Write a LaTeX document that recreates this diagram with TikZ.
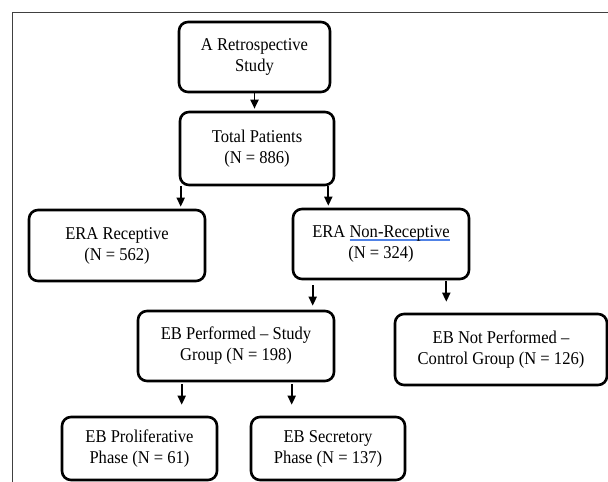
\documentclass[tikz,border=0pt]{standalone}
\usepackage{fontspec}
\setmainfont{Liberation Serif}[FakeStretch=0.92]
\usepackage{tikz}
\usetikzlibrary{arrows.meta,calc}

\definecolor{spellblue}{RGB}{80,130,230}
% blue double line under a word
\newsavebox\spellword
\newcommand\spellmark[1]{\sbox\spellword{#1}%
  \rlap{\textcolor{spellblue}{\rule[-1.9pt]{\wd\spellword}{0.9pt}}}%
  \rlap{\textcolor{spellblue}{\rule[-3.7pt]{\wd\spellword}{0.9pt}}}%
  \usebox\spellword}

\tikzset{
  flowbox/.style = {draw, line width=2.6pt, rounded corners=9pt, align=center,
    inner sep=0pt, font=\fontsize{18}{21}\selectfont},
  flowarrow/.style = {line width=1.8pt, -{Triangle[length=9pt,width=8pt]}}
}

\begin{document}
\begin{tikzpicture}[x=1pt, y=-1pt]
  \useasboundingbox (0,0) rectangle (608,482);

  % frame of the page
  \draw[black!75, line width=1pt] (12,482) -- (12,12) -- (608,12);

  % boxes
  \node[flowbox, minimum width=151, minimum height=70] (study) at (254.5,57)
    {A Retrospective\\Study};
  \node[flowbox, minimum width=154, minimum height=73] (total) at (257,148.5)
    {Total Patients\\(N = 886)};
  \node[flowbox, minimum width=176, minimum height=71] (recep) at (117,245.5)
    {ERA Receptive\\(N = 562)};
  \node[flowbox, minimum width=176, minimum height=70] (nonrecep) at (381,244)
    {ERA \spellmark{Non-Receptive}\\(N = 324)};
  \node[flowbox, minimum width=196, minimum height=70] (studygrp) at (236,346)
    {EB Performed -- Study\\Group (N = 198)};
  \node[flowbox, minimum width=212, minimum height=71] (controlgrp) at (501,349.5)
    {EB Not Performed --\\Control Group (N = 126)};
  \node[flowbox, minimum width=155, minimum height=63] (prolif) at (139.5,448.5)
    {EB Proliferative\\Phase (N = 61)};
  \node[flowbox, minimum width=154, minimum height=63] (secret) at (328,448.5)
    {EB Secretory\\Phase (N = 137)};

  % arrows
  \draw[flowarrow, shorten >=2pt] (study.south) -- (study.south |- total.north);
  \draw[flowarrow, shorten >=2pt] ([xshift=2pt]total.south west)
    -- ([xshift=2pt]total.south west |- recep.north);
  \draw[flowarrow, shorten >=2pt] ([xshift=-7pt]total.south east)
    -- ([xshift=-7pt]total.south east |- nonrecep.north);
  \draw[flowarrow, shorten <=5pt, shorten >=4pt] ([xshift=21pt]nonrecep.south west)
    -- ([xshift=21pt]nonrecep.south west |- studygrp.north);
  \draw[flowarrow, shorten <=1pt, shorten >=11pt] ([xshift=-24pt]nonrecep.south east)
    -- ([xshift=-24pt]nonrecep.south east |- controlgrp.north);
  \draw[flowarrow, shorten <=2pt, shorten >=11pt] ([xshift=45pt]studygrp.south west)
    -- ([xshift=45pt]studygrp.south west |- prolif.north);
  \draw[flowarrow, shorten <=2pt, shorten >=11pt] ([xshift=155pt]studygrp.south west)
    -- ([xshift=155pt]studygrp.south west |- secret.north);
\end{tikzpicture}
\end{document}
